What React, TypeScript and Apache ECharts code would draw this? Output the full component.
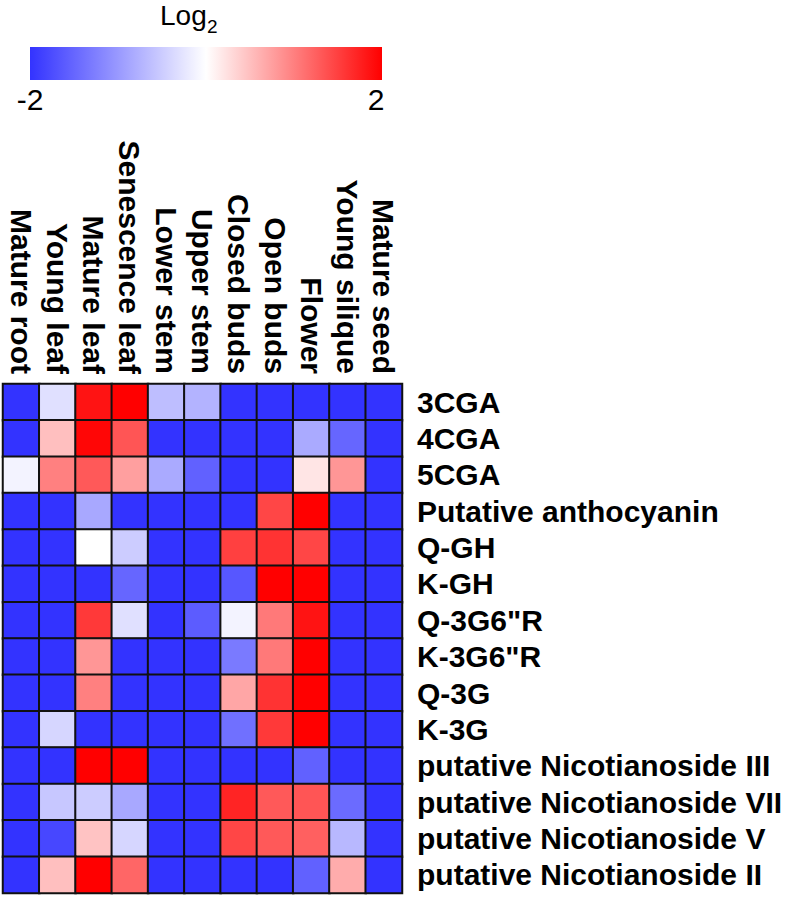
import React, { useEffect, useRef } from "react";
import * as echarts from "echarts";

const tissues = [
  "Mature root",
  "Young leaf",
  "Mature leaf",
  "Senescence leaf",
  "Lower stem",
  "Upper stem",
  "Closed buds",
  "Open buds",
  "Flower",
  "Young silique",
  "Mature seed",
];

const compounds = [
  "3CGA",
  "4CGA",
  "5CGA",
  "Putative anthocyanin",
  "Q-GH",
  "K-GH",
  'Q-3G6"R',
  'K-3G6"R',
  "Q-3G",
  "K-3G",
  "putative Nicotianoside III",
  "putative Nicotianoside VII",
  "putative Nicotianoside V",
  "putative Nicotianoside II",
];

// log2 values per compound, in tissue order
const v3CGA = [-2, -0.3, 1.85, 2, -0.64, -0.75, -2, -2, -2, -2, -2];
const v4CGA = [-2, 0.5, 1.95, 1.33, -2, -2, -2, -2, -0.83, -1.5, -2];
const v5CGA = [-0.12, 1.0, 1.3, 0.75, -0.83, -1.55, -2, -2, 0.2, 0.82, -2];
const vAntho = [-2, -2, -0.85, -2, -2, -2, -2, 1.45, 2, -2, -2];
const vQGH = [-2, -2, 0.0, -0.5, -2, -2, 1.5, 1.6, 1.45, -2, -2];
const vKGH = [-2, -2, -2, -1.5, -2, -2, -1.65, 2, 2, -2, -2];
const vQ3G6R = [-2, -2, 1.55, -0.3, -2, -1.6, -0.12, 1.05, 1.85, -2, -2];
const vK3G6R = [-2, -2, 0.82, -2, -2, -2, -1.3, 1.05, 2, -2, -2];
const vQ3G = [-2, -2, 1.0, -2, -2, -2, 0.7, 1.6, 2, -2, -2];
const vK3G = [-2, -0.4, -2, -2, -2, -2, -1.4, 1.55, 2, -2, -2];
const vNicIII = [-2, -2, 2, 2, -2, -2, -2, -2, -1.55, -2, -2];
const vNicVII = [-2, -0.55, -0.5, -0.85, -2, -2, 1.72, 1.3, 1.33, -1.45, -2];
const vNicV = [-2, -1.8, 0.47, -0.4, -2, -2, 1.45, 1.3, 1.25, -0.7, -2];
const vNicII = [-2, 0.5, 2, 1.2, -2, -2, -2, -2, -1.55, 0.65, -2];

const valueRows = [
  v3CGA, v4CGA, v5CGA, vAntho, vQGH, vKGH, vQ3G6R,
  vK3G6R, vQ3G, vK3G, vNicIII, vNicVII, vNicV, vNicII,
];

const scaleMin = -2;
const scaleMax = 2;
const scaleLabels = ["-2", "2"];
const scaleTitle = "Log";
const scaleTitleSub = "2";
const scaleColors = ["#3333ff", "#ffffff", "#ff0000"];

const FONT = '"Liberation Sans", Arial, Helvetica, sans-serif';

export default function App() {
  const ref = useRef<HTMLDivElement>(null);

  useEffect(() => {
    if (!ref.current) return;
    const chart = echarts.init(ref.current, null, { renderer: "svg" });

    const data: [number, number, number][] = [];
    valueRows.forEach((row, yi) => {
      row.forEach((v, xi) => data.push([xi, yi, v]));
    });

    const barLeft = 30;
    const barTop = 47;
    const barW = 352;
    const barH = 33;

    chart.setOption({
      animation: false,
      backgroundColor: "#ffffff",
      grid: { left: 3, top: 384, width: 399, height: 509, containLabel: false },
      xAxis: {
        type: "category",
        data: tissues,
        position: "top",
        axisLine: { show: false },
        axisTick: { show: false },
        splitLine: { show: false },
        axisLabel: {
          rotate: 90,
          interval: 0,
          margin: 10,
          padding: [0, 0, 13, 0],
          color: "#000",
          fontFamily: FONT,
          fontWeight: "bold",
          fontSize: 30,
        },
      },
      yAxis: {
        type: "category",
        data: compounds,
        inverse: true,
        position: "right",
        axisLine: { show: false },
        axisTick: { show: false },
        splitLine: { show: false },
        axisLabel: {
          interval: 0,
          margin: 15,
          color: "#000",
          fontFamily: FONT,
          fontWeight: "bold",
          fontSize: 30,
          align: "left",
        },
      },
      visualMap: {
        show: false,
        type: "continuous",
        min: scaleMin,
        max: scaleMax,
        dimension: 2,
        inRange: { color: scaleColors },
      },
      series: [
        {
          type: "heatmap",
          data,
          itemStyle: { borderColor: "#111", borderWidth: 2 },
          emphasis: { disabled: true },
        },
      ],
      graphic: [
        {
          type: "rect",
          shape: { x: barLeft, y: barTop, width: barW, height: barH },
          style: {
            fill: new echarts.graphic.LinearGradient(0, 0, 1, 0, [
              { offset: 0, color: scaleColors[0] },
              { offset: 0.5, color: scaleColors[1] },
              { offset: 1, color: scaleColors[2] },
            ]),
          },
        },
        {
          type: "text",
          x: 160,
          y: 15,
          style: {
            text: scaleTitle,
            fontFamily: FONT,
            fontSize: 28,
            fill: "#000",
            align: "left",
            verticalAlign: "middle",
          },
        },
        {
          type: "text",
          x: 207,
          y: 26,
          style: {
            text: scaleTitleSub,
            fontFamily: FONT,
            fontSize: 19,
            fill: "#000",
            align: "left",
            verticalAlign: "middle",
          },
        },
        {
          type: "text",
          x: 30,
          y: 99,
          style: {
            text: scaleLabels[0],
            fontFamily: FONT,
            fontSize: 30,
            fill: "#000",
            align: "center",
            verticalAlign: "middle",
          },
        },
        {
          type: "text",
          x: 376,
          y: 99,
          style: {
            text: scaleLabels[1],
            fontFamily: FONT,
            fontSize: 30,
            fill: "#000",
            align: "center",
            verticalAlign: "middle",
          },
        },
      ],
    });

    return () => chart.dispose();
  }, []);

  return (
    <div
      ref={ref}
      style={{ position: "fixed", left: 0, top: 0, width: 789, height: 898, background: "#fff" }}
    />
  );
}
